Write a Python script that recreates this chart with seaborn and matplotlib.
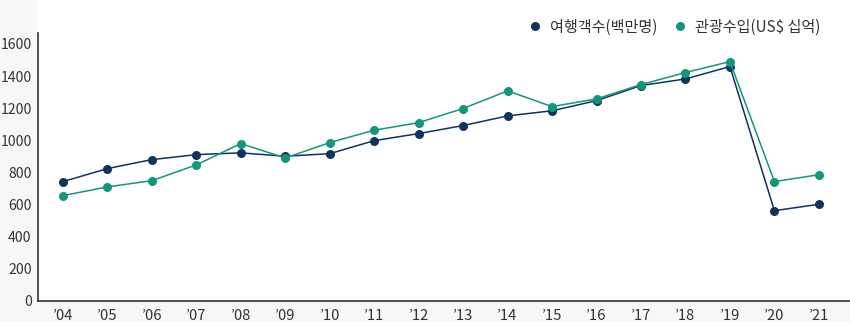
import matplotlib
matplotlib.use("Agg")
import matplotlib.pyplot as plt
from matplotlib.patches import Rectangle
from matplotlib.lines import Line2D
import seaborn as sns
import pandas as pd

# Annual series, 2004-2021
years = ["’04", "’05", "’06", "’07", "’08", "’09", "’10", "’11", "’12",
         "’13", "’14", "’15", "’16", "’17", "’18", "’19", "’20", "’21"]
arrivals = [743, 824, 880, 911, 922, 901, 917, 998, 1042,
            1092, 1152, 1184, 1247, 1341, 1382, 1459, 562, 602]
receipts = [656, 710, 749, 847, 980, 890, 986, 1063, 1110,
            1198, 1308, 1210, 1258, 1347, 1422, 1490, 743, 786]
series_names = ["여행객수(백만명)", "관광수입(US$ 십억)"]
y_ticks = [0, 200, 400, 600, 800, 1000, 1200, 1400, 1600]

navy = "#12325f"
green = "#139679"
bg = "#f7f7f7"
text_col = "#333333"

sns.set_theme(style="white")
plt.rcParams["font.family"] = ["Noto Sans CJK KR", "DejaVu Sans"]

df = pd.DataFrame({
    "idx": list(range(len(years))) * 2,
    "value": arrivals + receipts,
    "series": [series_names[0]] * len(years) + [series_names[1]] * len(years),
})

W, H = 850, 322
fig = plt.figure(figsize=(W / 100, H / 100), dpi=100, facecolor=bg)
# white panel behind the plot area, reaching up to the top edge
fig.patches.append(Rectangle((38 / W, 21 / H), 1 - 38 / W, 1 - 21 / H,
                             transform=fig.transFigure, facecolor="white",
                             edgecolor="none", zorder=-5))
ax = fig.add_axes([38 / W, 21 / H, 1 - 38 / W, (301 - 33) / H])
ax.set_facecolor("white")

sns.lineplot(data=df, x="idx", y="value", hue="series",
             palette=[navy, green], marker="o", markersize=6.5,
             markeredgewidth=0, linewidth=1.1, ax=ax, legend=False)

ax.set_xlim(-0.56, 17.7)
ax.set_ylim(0, 1668)
ax.set_xticks(range(len(years)))
ax.set_xticklabels(years)
ax.set_yticks(y_ticks)
ax.set_yticklabels([str(t) for t in y_ticks])
ax.set_xlabel("")
ax.set_ylabel("")
ax.tick_params(axis="both", length=0, colors=text_col)
ax.tick_params(axis="x", labelsize=10.6, pad=6)
ax.tick_params(axis="y", labelsize=10.1, pad=4.5)

for side in ("top", "right"):
    ax.spines[side].set_visible(False)
for side in ("left", "bottom"):
    ax.spines[side].set_color(text_col)
    ax.spines[side].set_linewidth(1.2)

handles = [Line2D([], [], linestyle="none", marker="o", markersize=6.5,
                  markeredgewidth=0, color=c) for c in (navy, green)]
fig.legend(handles, series_names, loc="center right",
           bbox_to_anchor=(834 / W, 1 - 27 / H), ncol=2, frameon=False,
           fontsize=10.9, handlelength=0.8, handletextpad=0.6,
           columnspacing=1.1, labelcolor=text_col)

fig.savefig("out.png", dpi=100, facecolor=bg)
